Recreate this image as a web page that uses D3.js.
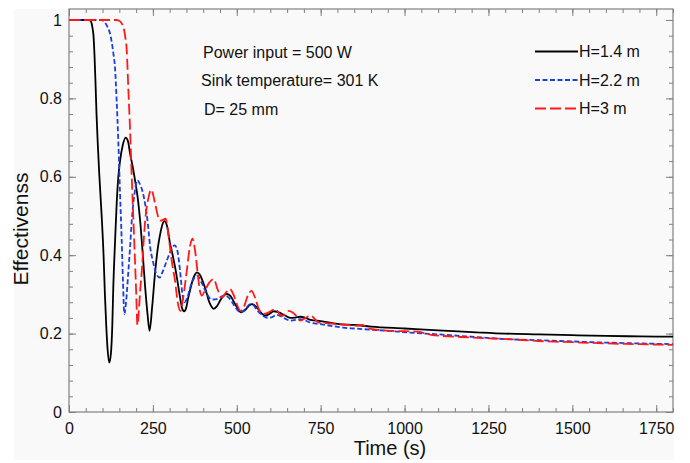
<!DOCTYPE html>
<html>
<head>
<meta charset="utf-8">
<script src="https://cdn.jsdelivr.net/npm/d3@7"></script>
<style>
  body { margin: 0; background: #fff; }
  svg { display: block; font-family: "Liberation Sans", Arial, sans-serif; }
</style>
</head>
<body>
<div id="chart"></div>
<script>
// data
var seriesNames = ["H=1.4 m", "H=2.2 m", "H=3 m"];

var timeH14 = [0, 60, 66, 70, 73, 76, 79, 82, 86, 90, 94, 98, 103, 107, 111, 115, 120, 125, 129, 132, 137, 142, 147, 152, 160, 169, 176, 182, 190, 197, 205, 212, 220, 227, 234, 240, 248, 257, 265, 272, 278, 284, 292, 301, 309, 316, 324, 331, 337, 343, 349, 355, 362, 368, 375, 381, 390, 400, 408, 416, 424, 431, 441, 451, 461, 471, 482, 492, 502, 513, 522, 530, 538, 546, 556, 566, 576, 585, 597, 610, 625, 640, 660, 675, 690, 705, 720, 750, 800, 850, 900, 1000, 1100, 1200, 1300, 1400, 1500, 1600, 1700, 1805];
var effH14 = [1, 1, 0.995, 0.98, 0.96, 0.91, 0.84, 0.76, 0.68, 0.61, 0.55, 0.49, 0.4, 0.3, 0.22, 0.16, 0.126, 0.15, 0.22, 0.318, 0.43, 0.53, 0.6, 0.64, 0.68, 0.7, 0.69, 0.659, 0.625, 0.59, 0.545, 0.488, 0.4, 0.318, 0.25, 0.207, 0.27, 0.36, 0.42, 0.455, 0.477, 0.487, 0.475, 0.43, 0.4, 0.37, 0.33, 0.292, 0.265, 0.257, 0.265, 0.29, 0.315, 0.335, 0.35, 0.356, 0.35, 0.33, 0.31, 0.285, 0.27, 0.263, 0.27, 0.285, 0.297, 0.301, 0.295, 0.28, 0.265, 0.254, 0.258, 0.265, 0.272, 0.275, 0.27, 0.26, 0.25, 0.246, 0.25, 0.257, 0.254, 0.248, 0.24, 0.241, 0.243, 0.24, 0.235, 0.232, 0.225, 0.222, 0.218, 0.213, 0.208, 0.204, 0.2, 0.198, 0.196, 0.194, 0.193, 0.192];

var timeH22 = [0, 97, 104, 110, 116, 122, 128, 133, 137, 142, 147, 152, 157, 161, 165, 170, 177, 182, 187, 195, 204, 212, 220, 227, 235, 242, 250, 257, 264, 270, 280, 291, 300, 308, 315, 322, 331, 338, 344, 352, 362, 372, 382, 395, 411, 425, 441, 456, 466, 478, 490, 500, 511, 525, 540, 550, 560, 572, 588, 600, 620, 640, 660, 690, 720, 750, 780, 818, 850, 900, 950, 1009, 1100, 1200, 1300, 1400, 1500, 1600, 1700, 1805];
var effH22 = [1, 1, 0.997, 0.99, 0.98, 0.966, 0.94, 0.91, 0.88, 0.795, 0.69, 0.56, 0.44, 0.33, 0.25, 0.28, 0.36, 0.42, 0.488, 0.556, 0.591, 0.58, 0.56, 0.53, 0.48, 0.42, 0.385, 0.36, 0.347, 0.343, 0.36, 0.385, 0.405, 0.42, 0.425, 0.415, 0.36, 0.3, 0.28, 0.29, 0.32, 0.34, 0.348, 0.33, 0.301, 0.287, 0.288, 0.295, 0.297, 0.29, 0.275, 0.262, 0.254, 0.262, 0.275, 0.272, 0.26, 0.25, 0.241, 0.241, 0.248, 0.24, 0.233, 0.237, 0.228, 0.224, 0.22, 0.215, 0.213, 0.21, 0.207, 0.203, 0.198, 0.192, 0.186, 0.183, 0.18, 0.177, 0.175, 0.173];

var timeH30 = [0, 140, 150, 158, 162, 167, 172, 177, 182, 187, 192, 196, 200, 204, 209, 213, 217, 222, 227, 237, 245, 257, 265, 272, 280, 288, 295, 301, 308, 316, 324, 332, 340, 351, 360, 368, 376, 384, 390, 396, 405, 418, 431, 444, 456, 468, 479, 490, 500, 511, 522, 532, 544, 555, 566, 576, 590, 603, 615, 625, 635, 645, 655, 672, 690, 705, 720, 745, 780, 830, 860, 875, 890, 959, 1000, 1040, 1078, 1200, 1306, 1400, 1500, 1600, 1700, 1805];
var effH30 = [1, 1, 0.998, 0.99, 0.983, 0.96, 0.923, 0.82, 0.72, 0.6, 0.488, 0.4, 0.31, 0.222, 0.27, 0.32, 0.36, 0.43, 0.488, 0.547, 0.567, 0.53, 0.5, 0.488, 0.49, 0.493, 0.46, 0.42, 0.375, 0.335, 0.28, 0.258, 0.29, 0.36, 0.42, 0.442, 0.41, 0.35, 0.31, 0.297, 0.31, 0.33, 0.339, 0.31, 0.292, 0.305, 0.314, 0.3, 0.275, 0.258, 0.27, 0.295, 0.309, 0.29, 0.262, 0.25, 0.252, 0.258, 0.263, 0.253, 0.245, 0.25, 0.258, 0.25, 0.233, 0.24, 0.246, 0.228, 0.226, 0.222, 0.22, 0.222, 0.214, 0.207, 0.206, 0.205, 0.197, 0.19, 0.186, 0.181, 0.178, 0.175, 0.173, 0.171];

var xTicks = [0, 250, 500, 750, 1000, 1250, 1500, 1750];
var yTicks = [0, 0.2, 0.4, 0.6, 0.8, 1];
var notes = ["Power input = 500 W", "Sink temperature= 301 K", "D= 25 mm"];

var width = 690;
var height = 463;
var plot = {"left": 69, "right": 673, "top": 9, "bottom": 412};

var styles = [
    {"color": "#000000", "dash": null},
    {"color": "#1a3fe0", "dash": "5,2.5"},
    {"color": "#ff1a1a", "dash": "11,4"}
];

var series = [
    d3.zip(timeH14, effH14),
    d3.zip(timeH22, effH22),
    d3.zip(timeH30, effH30)
];

// scales
var xScale = d3.scaleLinear()
    .domain([0, 1800])
    .range([plot.left, plot.right]);
var yScale = d3.scaleLinear()
    .domain([0, 1.028])
    .range([plot.bottom, plot.top]);

var svg = d3.select("div#chart").append("svg")
    .attr("width", width)
    .attr("height", height);

// light panel behind everything
svg.append("rect")
    .attr("x", 14).attr("y", 9)
    .attr("width", 660).attr("height", 451)
    .attr("fill", "#f9f9f9");

svg.append("clipPath").attr("id", "clip")
    .append("rect")
    .attr("x", plot.left).attr("y", plot.top)
    .attr("width", plot.right - plot.left)
    .attr("height", plot.bottom - plot.top);

// axes: majors with labels, minors without, mirrored on top / right
var axisColor = "#808080";
function styleAxis(g) {
    g.select(".domain").remove();
    g.selectAll(".tick line").attr("stroke", axisColor);
    g.selectAll(".tick text")
        .attr("fill", "#111")
        .attr("font-size", 16)
        .attr("font-family", "Liberation Sans, Arial, sans-serif");
}

var minorX = d3.range(0, 1801, 50);
var minorY = d3.range(0, 1.01, 0.04);

svg.append("g")
    .attr("transform", "translate(0," + plot.bottom + ")")
    .call(d3.axisBottom(xScale).tickValues(xTicks).tickSizeInner(-7).tickSizeOuter(0).tickPadding(11).tickFormat(d3.format("d")))
    .call(styleAxis);
svg.append("g")
    .attr("transform", "translate(0," + plot.bottom + ")")
    .call(d3.axisBottom(xScale).tickValues(minorX).tickSizeInner(-4).tickSizeOuter(0).tickFormat(""))
    .call(styleAxis);
svg.append("g")
    .attr("transform", "translate(0," + plot.top + ")")
    .call(d3.axisTop(xScale).tickValues(xTicks).tickSizeInner(-7).tickSizeOuter(0).tickFormat(""))
    .call(styleAxis);
svg.append("g")
    .attr("transform", "translate(0," + plot.top + ")")
    .call(d3.axisTop(xScale).tickValues(minorX).tickSizeInner(-4).tickSizeOuter(0).tickFormat(""))
    .call(styleAxis);

svg.append("g")
    .attr("transform", "translate(" + plot.left + ",0)")
    .call(d3.axisLeft(yScale).tickValues(yTicks).tickSizeInner(-7).tickSizeOuter(0).tickPadding(7).tickFormat(function(d){ return d3.format("")(+d.toFixed(1)); }))
    .call(styleAxis);
svg.append("g")
    .attr("transform", "translate(" + plot.left + ",0)")
    .call(d3.axisLeft(yScale).tickValues(minorY).tickSizeInner(-4).tickSizeOuter(0).tickFormat(""))
    .call(styleAxis);
svg.append("g")
    .attr("transform", "translate(" + plot.right + ",0)")
    .call(d3.axisRight(yScale).tickValues(yTicks).tickSizeInner(-7).tickSizeOuter(0).tickFormat(""))
    .call(styleAxis);
svg.append("g")
    .attr("transform", "translate(" + plot.right + ",0)")
    .call(d3.axisRight(yScale).tickValues(minorY).tickSizeInner(-4).tickSizeOuter(0).tickFormat(""))
    .call(styleAxis);

// frame
svg.append("rect")
    .attr("x", plot.left).attr("y", plot.top)
    .attr("width", plot.right - plot.left)
    .attr("height", plot.bottom - plot.top)
    .attr("fill", "none")
    .attr("stroke", axisColor)
    .attr("stroke-width", 1.2);

// curves
var line = d3.line()
    .x(function(d){ return xScale(d[0]); })
    .y(function(d){ return yScale(d[1]); })
    .curve(d3.curveMonotoneX);

svg.append("g").attr("clip-path", "url(#clip)")
    .selectAll("path")
    .data(series)
    .enter().append("path")
    .attr("d", line)
    .attr("fill", "none")
    .attr("stroke", function(d, i){ return styles[i].color; })
    .attr("stroke-width", 1.8)
    .attr("stroke-dasharray", function(d, i){ return styles[i].dash; });

// legend
var legend = svg.append("g");
seriesNames.forEach(function(name, i) {
    var y = 51.5 + i * 28.5;
    legend.append("line")
        .attr("x1", 535).attr("x2", 578)
        .attr("y1", y).attr("y2", y)
        .attr("stroke", styles[i].color)
        .attr("stroke-width", 1.8)
        .attr("stroke-dasharray", styles[i].dash);
    legend.append("text")
        .attr("x", 579).attr("y", y + 5.5)
        .attr("font-size", 16)
        .attr("fill", "#111")
        .text(name);
});

// notes
notes.forEach(function(t, i) {
    svg.append("text")
        .attr("x", [203, 201, 204][i])
        .attr("y", 57.5 + i * 28.5)
        .attr("font-size", 16)
        .attr("fill", "#111")
        .text(t);
});

// axis titles
svg.append("text")
    .attr("x", 390).attr("y", 455)
    .attr("text-anchor", "middle")
    .attr("font-size", 20)
    .attr("fill", "#111")
    .text("Time (s)");
svg.append("text")
    .attr("transform", "translate(28,229) rotate(-90)")
    .attr("text-anchor", "middle")
    .attr("font-size", 21)
    .attr("fill", "#111")
    .text("Effectivenss");
</script>
</body>
</html>
